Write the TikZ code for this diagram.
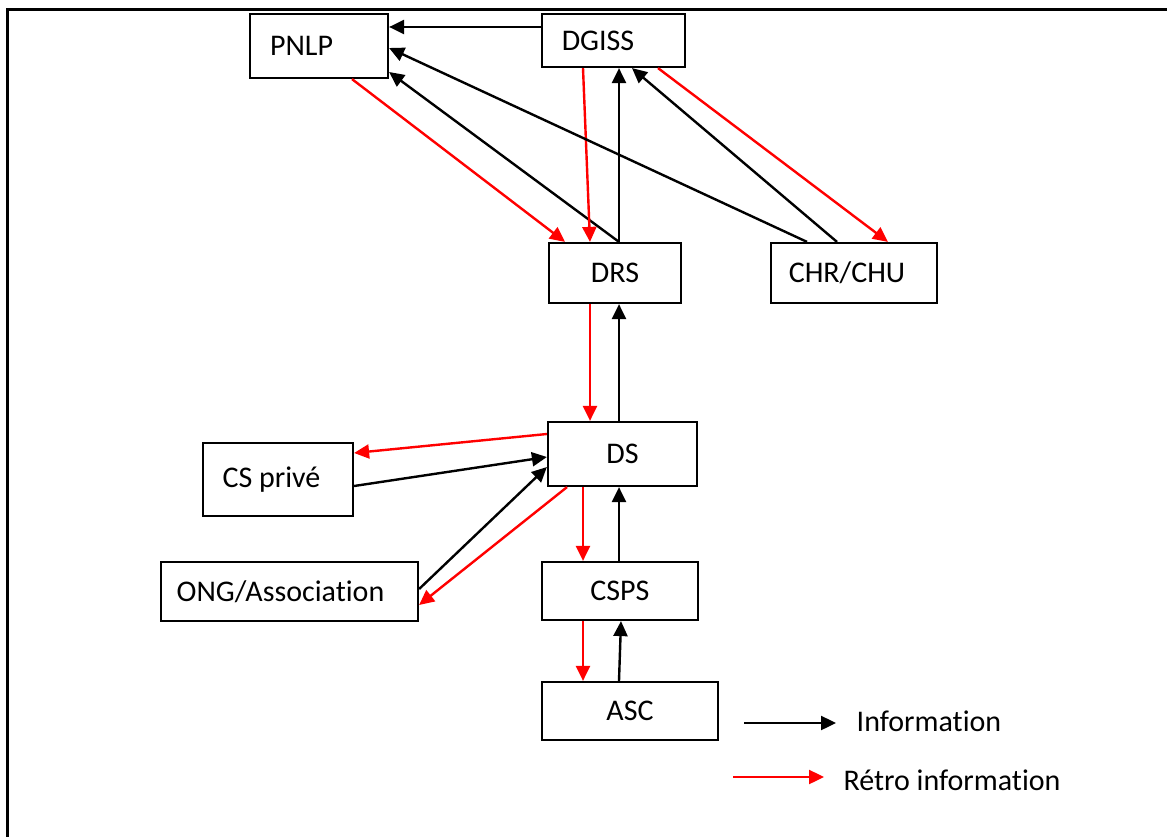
\documentclass[tikz,border=0pt]{standalone}
\usepackage{fontspec}
\setmainfont[Ligatures=NoCommon]{Carlito}
\usetikzlibrary{arrows.meta}
\begin{document}
\begin{tikzpicture}[x=1pt,y=-1pt,
  box/.style={draw=black,line width=2.2pt,rectangle,inner sep=0pt,fill=white,
    font=\fontsize{30pt}{36pt}\selectfont},
  info/.style={draw=black,line width=2.4pt,-{Triangle[length=15pt,width=14pt]}},
  retro/.style={draw=red,line width=2.4pt,-{Triangle[length=15pt,width=14pt]},color=red},
  lbl/.style={inner sep=0pt,font=\fontsize{30pt}{36pt}\selectfont}]
\useasboundingbox (0,0) rectangle (1167,837);
\fill[white] (0,0) rectangle (1167,837);
\draw[line width=3pt] (7,837) -- (7,10) -- (1167,10);

\node[box,minimum width=138pt,minimum height=64pt] (pnlp) at (319,46) {PNLP\hspace*{35pt}};
\node[box,minimum width=143pt,minimum height=53pt] (dgiss) at (613.5,40.5) {DGISS\hspace*{31pt}};
\node[box,minimum width=132pt,minimum height=60pt] (drs) at (615,273) {DRS};
\node[box,minimum width=166pt,minimum height=60pt] (chr) at (854,273) {CHR/CHU\hspace*{14pt}};
\node[box,minimum width=149pt,minimum height=64pt] (ds) at (622.5,454) {DS};
\node[box,minimum width=150pt,minimum height=73pt] (csp) at (278,479.5) {CS privé\hspace*{13pt}};
\node[box,minimum width=257pt,minimum height=59pt] (ong) at (289.5,591.5) {ONG/Association\hspace*{18pt}};
\node[box,minimum width=156pt,minimum height=58pt] (csps) at (620,591) {CSPS};
\node[box,minimum width=176pt,minimum height=58pt] (asc) at (630,711) {ASC};

% top level
\draw[info] ([yshift=13.5pt]dgiss.west) -- ([yshift=19pt]pnlp.east);
\draw[retro] ([xshift=33pt]pnlp.south) -- ([xshift=-50pt]drs.north);
\draw[info] ([xshift=4pt]drs.north) -- ([yshift=-26pt]pnlp.east);
\draw[retro] ([xshift=-30.5pt]dgiss.south) -- ([xshift=-25pt]drs.north);
\draw[info] ([xshift=4pt]drs.north) -- ([xshift=5.5pt]dgiss.south);
\draw[info] ([xshift=-47pt]chr.north) -- ([yshift=-2pt]pnlp.east);
\draw[info] ([xshift=-17pt]chr.north) -- ([xshift=18.5pt]dgiss.south);
\draw[retro] ([xshift=44.5pt]dgiss.south) -- ([xshift=34pt]chr.north);

% DRS - DS
\draw[retro] ([xshift=-25pt]drs.south) -- ([xshift=-32.5pt]ds.north);
\draw[info] ([xshift=-3.5pt]ds.north) -- ([xshift=4pt]drs.south);

% DS - CS prive / ONG
\draw[retro] ([yshift=20pt]ds.west) -- ([yshift=26.5pt]csp.east);
\draw[info] ([yshift=-6.5pt]csp.east) -- ([yshift=-3pt]ds.west);
\draw[info] ([yshift=2.5pt]ong.east) -- ([yshift=-13pt]ds.west);
\draw[retro] ([xshift=-55.5pt]ds.south) -- ([yshift=-13.5pt]ong.east);

% DS - CSPS - ASC
\draw[retro] ([xshift=-39.5pt]ds.south) -- ([xshift=-37pt]csps.north);
\draw[info] ([xshift=-1pt]csps.north) -- ([xshift=-3.5pt]ds.south);
\draw[retro] ([xshift=-37pt]csps.south) -- ([xshift=-47pt]asc.north);
\draw[info] ([xshift=-11pt]asc.north) -- ([xshift=1pt]csps.south);

% legend
\coordinate (l1a) at (744,723);
\coordinate (l1b) at (836,723);
\coordinate (l2a) at (733,777);
\coordinate (l2b) at (824,777);
\draw[info] (l1a) -- (l1b);
\draw[retro] (l2a) -- (l2b);
\node[lbl] (legi) at (929,721) {Information};
\node[lbl] (legr) at (952,780) {Rétro information};
\end{tikzpicture}
\end{document}
